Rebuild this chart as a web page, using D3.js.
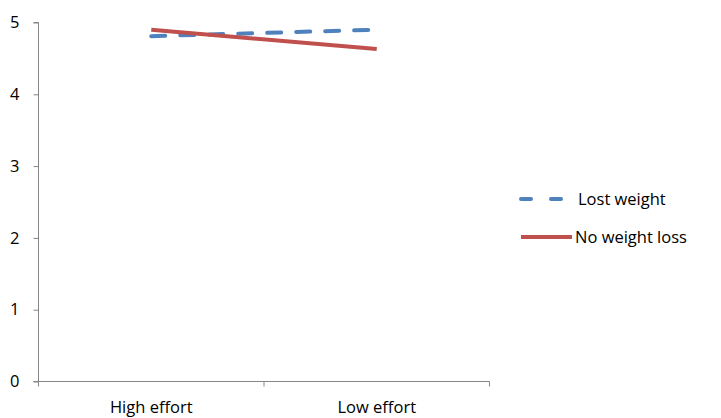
<!DOCTYPE html>
<html><head><meta charset="utf-8">
<script src="https://cdn.jsdelivr.net/npm/d3@7"></script>
<style>body{margin:0;background:#fff}svg{display:block}text{font-family:"Open Sans",sans-serif;fill:#000}</style>
</head><body><svg id="c" width="721" height="418"></svg>
<script>
const categories = ["High effort", "Low effort"];
const lostWeight = [4.81, 4.9];
const noWeightLoss = [4.9, 4.63];
const yTicks = [0, 1, 2, 3, 4, 5];
const seriesNames = ["Lost weight", "No weight loss"];
const colors = ["#4F81BD", "#C0504D"];

const svg = d3.select("#c");
const x0 = 38.5, x1 = 489.5, yTop = 22.5, yBot = 381.5;
const x = d3.scaleBand().domain(categories).range([x0, x1]);
const y = d3.scaleLinear().domain([0, 5]).range([yBot, yTop]);
const fs = "16.5px";

const yAxis = svg.append("g").attr("transform", `translate(${x0},0)`)
  .call(d3.axisLeft(y).tickValues(yTicks).tickSize(5).tickPadding(14).tickFormat(d3.format("d")));
const xAxis = svg.append("g").attr("transform", `translate(0,${yBot})`)
  .call(d3.axisBottom(x).tickSize(0).tickPadding(20));
const bounds = [x0, x0 + x.bandwidth(), x1];
xAxis.selectAll(".bt").data(bounds).enter().append("line")
  .attr("x1", d => d).attr("x2", d => d).attr("y1", 0).attr("y2", 5)
  .attr("stroke", "#868686");
[yAxis, xAxis].forEach(a => {
  a.selectAll(".domain").attr("stroke", "#868686").attr("stroke-width", 1);
  a.selectAll(".tick line").attr("stroke", "#868686");
  a.selectAll("text").style("font-size", fs).attr("fill", "#000");
});
yAxis.selectAll(".domain").attr("d", `M-5,${yTop}H0V${yBot}H-5`);
xAxis.selectAll(".domain").attr("d", `M${x0},0H${x1}`);

const line = d3.line().x((d, i) => x(categories[i]) + x.bandwidth() / 2).y(d => y(d));
const series = [lostWeight, noWeightLoss];
const dashes = ["14,15", null];
series.forEach((s, k) => {
  svg.append("path").datum(s).attr("d", line)
    .attr("fill", "none").attr("stroke", colors[k]).attr("stroke-width", 4)
    .attr("stroke-linecap", k === 0 ? "round" : "butt")
    .attr("stroke-dasharray", dashes[k]);
});

const legY = [199, 237];
seriesNames.forEach((n, k) => {
  svg.append("line").attr("x1", 521).attr("x2", k === 0 ? 565 : 572)
    .attr("y1", legY[k]).attr("y2", legY[k])
    .attr("stroke", colors[k]).attr("stroke-width", 4)
    .attr("stroke-linecap", k === 0 ? "round" : "butt")
    .attr("stroke-dasharray", k === 0 ? "10,20" : null);
  svg.append("text").attr("x", k === 0 ? 578 : 575).attr("y", legY[k])
    .attr("dy", "0.35em").style("font-size", fs).text(n);
});
</script></body></html>
